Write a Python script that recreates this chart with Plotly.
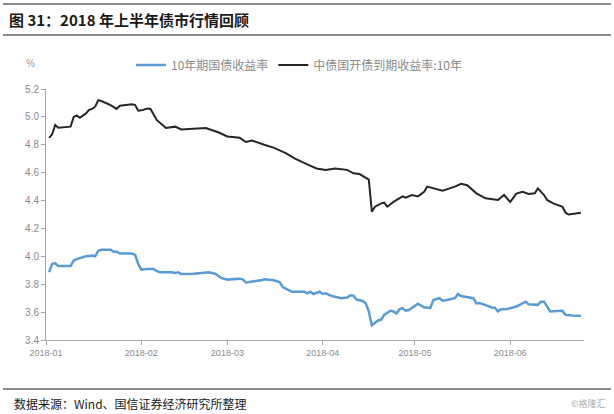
import plotly.graph_objects as go

# 10年期国债收益率
gov_dates = ["2018-01-02","2018-01-03","2018-01-04","2018-01-05","2018-01-09","2018-01-10","2018-01-11",
             "2018-01-14","2018-01-16","2018-01-17","2018-01-18","2018-01-19","2018-01-22","2018-01-23",
             "2018-01-24","2018-01-25","2018-01-29","2018-01-30","2018-01-31","2018-02-01","2018-02-03",
             "2018-02-05","2018-02-06","2018-02-07","2018-02-11","2018-02-12","2018-02-13","2018-02-14",
             "2018-02-18","2018-02-22","2018-02-23","2018-02-25","2018-02-27","2018-03-01","2018-03-05",
             "2018-03-06","2018-03-07","2018-03-08","2018-03-09","2018-03-12","2018-03-13","2018-03-16",
             "2018-03-18","2018-03-19","2018-03-21","2018-03-22","2018-03-26","2018-03-27","2018-03-28",
             "2018-03-29","2018-03-31","2018-04-01","2018-04-02","2018-04-04","2018-04-07","2018-04-09",
             "2018-04-10","2018-04-11","2018-04-12","2018-04-14","2018-04-15","2018-04-16","2018-04-17",
             "2018-04-19","2018-04-20","2018-04-21","2018-04-23","2018-04-24","2018-04-25","2018-04-26",
             "2018-04-27","2018-04-28","2018-04-29","2018-05-02","2018-05-04","2018-05-06","2018-05-07",
             "2018-05-09","2018-05-10","2018-05-11","2018-05-14","2018-05-15","2018-05-16","2018-05-18",
             "2018-05-20","2018-05-21","2018-05-22","2018-05-24","2018-05-26","2018-05-27","2018-05-28",
             "2018-05-29","2018-05-31","2018-06-03","2018-06-06","2018-06-07","2018-06-10","2018-06-11",
             "2018-06-12","2018-06-14","2018-06-18","2018-06-19","2018-06-20","2018-06-21","2018-06-24"]
gov_values = [3.887,3.946,3.950,3.930,3.930,3.970,3.980,
              4.000,4.005,4.000,4.040,4.047,4.047,4.033,
              4.033,4.020,4.020,4.010,3.945,3.905,3.910,
              3.910,3.895,3.885,3.885,3.880,3.885,3.873,
              3.875,3.880,3.885,3.875,3.845,3.833,3.840,
              3.835,3.812,3.815,3.820,3.828,3.835,3.828,
              3.815,3.780,3.757,3.746,3.746,3.734,3.746,
              3.730,3.746,3.730,3.735,3.715,3.700,3.705,
              3.720,3.718,3.690,3.680,3.664,3.605,3.506,
              3.540,3.545,3.580,3.610,3.605,3.590,3.620,
              3.628,3.610,3.615,3.660,3.635,3.630,3.687,
              3.700,3.682,3.685,3.700,3.730,3.715,3.710,
              3.700,3.663,3.665,3.650,3.633,3.632,3.605,
              3.620,3.622,3.640,3.675,3.656,3.652,3.675,
              3.675,3.605,3.610,3.580,3.580,3.575,3.574]

# 中债国开债到期收益率:10年
cdb_dates = ["2018-01-02","2018-01-03","2018-01-04","2018-01-05","2018-01-09","2018-01-10","2018-01-11",
             "2018-01-12","2018-01-14","2018-01-15","2018-01-16","2018-01-17","2018-01-18","2018-01-19",
             "2018-01-22","2018-01-24","2018-01-25","2018-01-29","2018-01-30","2018-01-31","2018-02-01",
             "2018-02-03","2018-02-04","2018-02-05","2018-02-06","2018-02-08","2018-02-09","2018-02-12",
             "2018-02-14","2018-02-22","2018-02-26","2018-03-01","2018-03-05","2018-03-07","2018-03-09",
             "2018-03-13","2018-03-16","2018-03-20","2018-03-23","2018-03-27","2018-03-30","2018-04-02",
             "2018-04-05","2018-04-09","2018-04-11","2018-04-13","2018-04-16","2018-04-17","2018-04-18",
             "2018-04-19","2018-04-20","2018-04-21","2018-04-22","2018-04-24","2018-04-25","2018-04-27",
             "2018-04-28","2018-04-30","2018-05-02","2018-05-04","2018-05-05","2018-05-07","2018-05-10",
             "2018-05-14","2018-05-16","2018-05-18","2018-05-21","2018-05-24","2018-05-28","2018-05-30",
             "2018-06-01","2018-06-03","2018-06-05","2018-06-07","2018-06-09","2018-06-10","2018-06-12",
             "2018-06-13","2018-06-15","2018-06-18","2018-06-19","2018-06-20","2018-06-24"]
cdb_values = [4.850,4.875,4.942,4.922,4.930,5.000,5.010,
              4.994,5.025,5.050,5.057,5.073,5.120,5.114,
              5.085,5.057,5.080,5.090,5.085,5.044,5.047,
              5.060,5.057,5.013,4.978,4.940,4.920,4.930,
              4.910,4.920,4.890,4.860,4.850,4.820,4.830,
              4.800,4.780,4.740,4.700,4.660,4.630,4.620,
              4.630,4.620,4.595,4.590,4.550,4.320,4.356,
              4.368,4.380,4.385,4.356,4.390,4.404,4.430,
              4.420,4.440,4.430,4.463,4.500,4.490,4.470,
              4.500,4.520,4.510,4.452,4.416,4.404,4.440,
              4.390,4.450,4.463,4.447,4.452,4.488,4.440,
              4.404,4.380,4.356,4.313,4.300,4.313]

y_ticks = [3.4, 3.6, 3.8, 4.0, 4.2, 4.4, 4.6, 4.8, 5.0, 5.2]

CJK = "Noto Sans CJK SC"
PH = 251.0  # plot-area height in px, used to place paper-referenced decorations

fig = go.Figure()
fig.add_trace(go.Scatter(x=gov_dates, y=gov_values, mode="lines", name="10年期国债收益率",
                         line=dict(color="#5B9BD5", width=2.5)))
fig.add_trace(go.Scatter(x=cdb_dates, y=cdb_values, mode="lines", name="中债国开债到期收益率:10年",
                         line=dict(color="#262626", width=2)))

fig.update_layout(
    width=614, height=414,
    margin=dict(l=46, r=30, t=89, b=74),
    paper_bgcolor="white", plot_bgcolor="white",
    font=dict(family=CJK, color="#888888", size=10),
    showlegend=True,
    legend=dict(orientation="h", x=0.158, xanchor="left", y=1 + 24 / PH, yanchor="middle",
                font=dict(size=12, color="#8a8a8a", family=CJK),
                itemwidth=30, tracegroupgap=0, bgcolor="rgba(0,0,0,0)"),
    xaxis=dict(type="date", range=["2018-01-01", "2018-06-25"], dtick="M1", tickformat="%Y-%m",
               tick0="2018-01-01",
               showgrid=False, zeroline=False, showline=True, linecolor="#a6a6a6", linewidth=1,
               ticks="outside", ticklen=4, tickcolor="#a6a6a6",
               tickfont=dict(size=9, color="#8a8a8a", family="Liberation Sans")),
    yaxis=dict(range=[3.4, 5.2], tickvals=y_ticks, tickformat=".1f",
               showgrid=False, zeroline=False, showline=True, linecolor="#a6a6a6", linewidth=1,
               ticks="outside", ticklen=4, tickcolor="#a6a6a6",
               tickfont=dict(size=10, color="#8a8a8a", family="Liberation Sans")),
)

# header / footer rules
for yy in (1 + 85 / PH, 1 + 54 / PH, -49 / PH):
    fig.add_shape(type="line", xref="paper", yref="paper", x0=-0.08, x1=1.05,
                  y0=yy, y1=yy, line=dict(color="#8c8c8c", width=2))

fig.add_annotation(xref="paper", yref="paper", x=-0.072, y=1 + 70 / PH, xanchor="left", yanchor="middle",
                   text="<b>图 31：2018 年上半年债市行情回顾</b>", showarrow=False,
                   font=dict(family=CJK, size=15, color="#1a1a1a"))
fig.add_annotation(xref="paper", yref="paper", x=-0.028, y=1 + 26 / PH, xanchor="center", yanchor="middle",
                   text="%", showarrow=False, font=dict(family="Liberation Sans", size=10, color="#999999"))
fig.add_annotation(xref="paper", yref="paper", x=-0.063, y=-63 / PH, xanchor="left", yanchor="middle",
                   text="数据来源：Wind、国信证券经济研究所整理", showarrow=False,
                   font=dict(family=CJK, size=12, color="#1a1a1a"))
fig.add_annotation(xref="paper", yref="paper", x=1.045, y=-63 / PH, xanchor="right", yanchor="middle",
                   text="©格隆汇", showarrow=False, font=dict(family=CJK, size=9, color="#aaaaaa"))

fig.write_html("out.html", config={"displayModeBar": False},
               post_script="document.body.style.margin='0';")
